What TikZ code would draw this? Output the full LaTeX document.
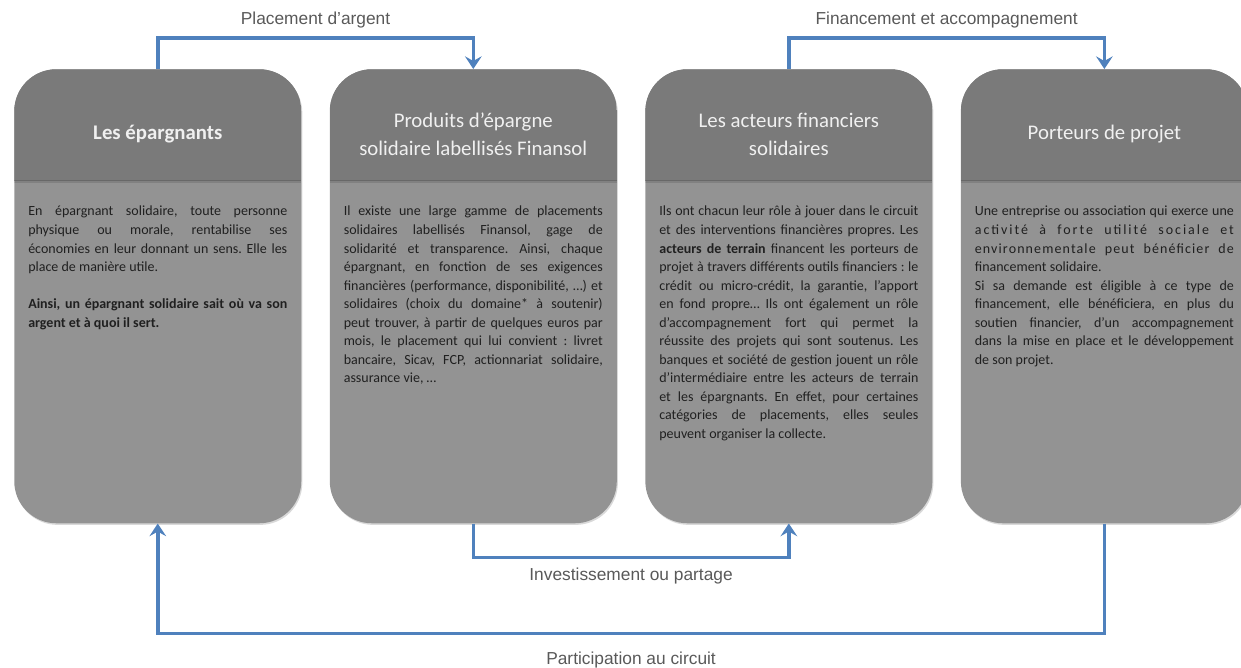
\documentclass[tikz,border=0pt]{standalone}
\usepackage{fontspec}
\setmainfont{Carlito}
\newfontfamily\labelfont{Liberation Sans}
\usetikzlibrary{arrows, arrows.meta, calc, positioning, shadows}
\definecolor{headgray}{RGB}{122,122,122}
\definecolor{bodygray}{RGB}{147,147,147}
\definecolor{linegray}{RGB}{104,104,104}
\definecolor{flowblue}{RGB}{79,129,189}
\definecolor{labelgray}{RGB}{89,89,89}
\definecolor{textdark}{RGB}{32,32,32}
\tolerance=9999
\hbadness=10000
\frenchspacing
\setlength{\parindent}{0pt}
\tikzstyle{card} = [rectangle, rounded corners=31.5pt, fill=bodygray, minimum width=215.25pt, minimum height=340.5pt, inner sep=0pt, drop shadow={opacity=0.3, shadow xshift=0.8pt, shadow yshift=-1.2pt}, path picture={\fill[headgray, sharp corners] (path picture bounding box.north west) rectangle ($(path picture bounding box.north east)+(0,-83.25pt)$); \fill[black, opacity=0.12, sharp corners] ($(path picture bounding box.north west)+(0,-83.25pt)$) rectangle ($(path picture bounding box.north east)+(0,-85.5pt)$); \draw[linegray, line width=0.8pt, sharp corners] ($(path picture bounding box.north west)+(0,-83.25pt)$) -- ($(path picture bounding box.north east)+(0,-83.25pt)$);}]
\tikzstyle{heading} = [text=white!94!black, align=center, inner sep=0pt, font=\fontsize{15.6}{21}\selectfont]
\tikzstyle{body} = [text=textdark, text width=194.25pt, inner sep=0pt, anchor=north, align=justify, font=\fontsize{10.5}{13.9}\selectfont]
\tikzstyle{flow} = [line width=2.6pt, draw=flowblue, -{Stealth[length=9.5pt, width=12.5pt, inset=3.5pt]}]
\tikzstyle{flowlabel} = [text=labelgray, font=\labelfont\fontsize{13}{15}\selectfont]

\begin{document}
\begin{tikzpicture}
		\useasboundingbox (0,0) rectangle (930.75pt,-500.25pt);
		\node (Epargnants) [card, anchor=north west] at (10.5pt,-51.75pt) {};
		\node (Produits) [card, right=21pt of Epargnants] {};
		\node (Acteurs) [card, right=21pt of Produits] {};
		\node (Porteurs) [card, right=21pt of Acteurs] {};
		\node (EpargnantsTitle) [heading, font=\fontsize{15.6}{21}\selectfont\bfseries, yshift=-49pt] at (Epargnants.north) {Les épargnants};
		\node (ProduitsTitle) [heading, yshift=-49pt] at (Produits.north) {Produits d’épargne\\solidaire labellisés Finansol};
		\node (ActeursTitle) [heading, yshift=-49pt] at (Acteurs.north) {Les acteurs financiers\\solidaires};
		\node (PorteursTitle) [heading, yshift=-49pt] at (Porteurs.north) {Porteurs de projet};
		\node (EpargnantsText) [body, yshift=-102.75pt] at (Epargnants.north) {En épargnant solidaire, toute personne\linebreak physique ou morale, rentabilise ses\linebreak économies en leur donnant un sens. Elle les\linebreak place de manière utile.\par\vspace{13.9pt}\textbf{Ainsi, un épargnant solidaire sait où va son\linebreak argent et à quoi il sert.}};
		\node (ProduitsText) [body, yshift=-102.75pt] at (Produits.north) {Il existe une large gamme de placements\linebreak solidaires labellisés Finansol, gage de\linebreak solidarité et transparence. Ainsi, chaque\linebreak épargnant, en fonction de ses exigences\linebreak financières (performance, disponibilité, …) et\linebreak solidaires (choix du domaine* à soutenir)\linebreak peut trouver, à partir de quelques euros par\linebreak mois, le placement qui lui convient : livret\linebreak bancaire, Sicav, FCP, actionnariat solidaire,\linebreak assurance vie, …};
		\node (ActeursText) [body, yshift=-102.75pt] at (Acteurs.north) {Ils ont chacun leur rôle à jouer dans le circuit\linebreak et des interventions financières propres. Les\linebreak \textbf{acteurs de terrain} financent les porteurs de\linebreak projet à travers différents outils financiers : le\linebreak crédit ou micro-crédit, la garantie, l’apport\linebreak en fond propre… Ils ont également un rôle\linebreak d’accompagnement fort qui permet la\linebreak réussite des projets qui sont soutenus. Les\linebreak banques et société de gestion jouent un rôle\linebreak d’intermédiaire entre les acteurs de terrain\linebreak et les épargnants. En effet, pour certaines\linebreak catégories de placements, elles seules\linebreak peuvent organiser la collecte.};
		\node (PorteursText) [body, yshift=-102.75pt] at (Porteurs.north) {Une entreprise ou association qui exerce une\linebreak {\addfontfeature{LetterSpace=14}activité à forte utilité sociale et}\linebreak {\addfontfeature{LetterSpace=8}environnementale peut bénéficier de}\linebreak financement solidaire.\par Si sa demande est éligible à ce type de\linebreak financement, elle bénéficiera, en plus du\linebreak soutien financier, d’un accompagnement\linebreak dans la mise en place et le développement\linebreak de son projet.};
		\draw [flow] (Epargnants.north) -- ++(0,23.25pt) -| node[flowlabel, pos=0.25, yshift=13.5pt]{Placement d’argent} (Produits.north);
		\draw [flow] (Acteurs.north) -- ++(0,23.25pt) -| node[flowlabel, pos=0.25, yshift=13.5pt]{Financement et accompagnement} (Porteurs.north);
		\draw [flow] (Produits.south) -- ++(0,-25.5pt) -| node[flowlabel, pos=0.25, yshift=-13.5pt]{Investissement ou partage} (Acteurs.south);
		\draw [flow] (Porteurs.south) -- ++(0,-82.5pt) -| node[flowlabel, pos=0.25, yshift=-19.5pt]{Participation au circuit} (Epargnants.south);
	\end{tikzpicture}
\end{document}
